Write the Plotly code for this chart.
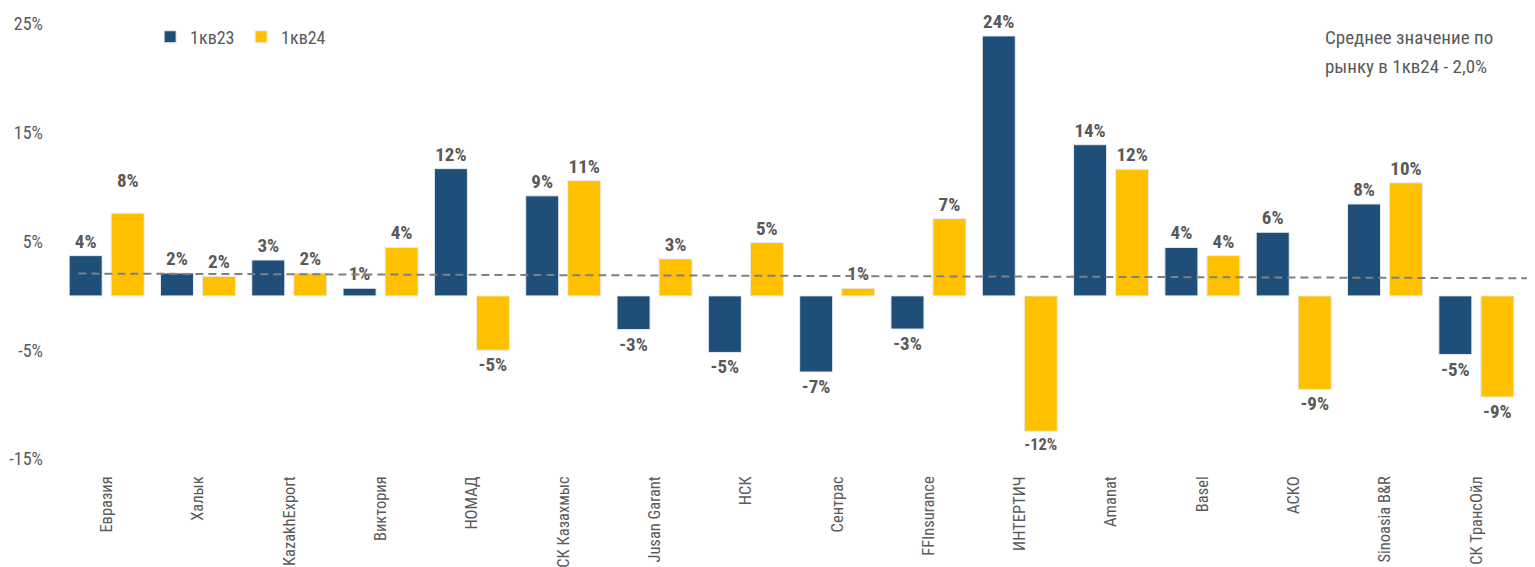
import plotly.graph_objects as go

categories = ["Евразия", "Халык", "KazakhExport", "Виктория", "НОМАД", "СК Казахмыс",
              "Jusan Garant", "НСК", "Сентрас", "FFInsurance", "ИНТЕРТИЧ", "Amanat",
              "Basel", "АСКО", "Sinoasia B&R", "СК ТрансОйл"]
q1_23 = [3.7, 2.1, 3.3, 0.7, 11.7, 9.2, -3.1, -5.2, -7.0, -3.05, 23.9, 13.9, 4.45, 5.85, 8.45, -5.4]
q1_24 = [7.6, 1.8, 2.1, 4.45, -5.0, 10.6, 3.4, 4.9, 0.7, 7.1, -12.45, 11.65, 3.7, -8.6, 10.4, -9.3]
series_names = ["1кв23", "1кв24"]
avg_line = [2.05, 1.62]  # market-average dashed line (left end, right end)
y_ticks = [-15, -5, 5, 15, 25]
note_lines = ["Среднее значение по", "рынку в 1кв24 - 2,0%"]

BLUE = "#1F4E79"
GOLD = "#FFC000"
GRAY = "#595959"
FONT = "Roboto Condensed, Liberation Sans Narrow, DejaVu Sans Condensed, Arial Narrow, sans-serif"
LBL_FONT = dict(family=FONT, size=19, color=GRAY, weight="bold")


def labels(vals):
    return [f"{v:.0f}%" for v in vals]


lbl23 = labels(q1_23)
lbl24 = labels(q1_24)
# the first 1кв24 label sits higher in the reference: drawn separately below
lbl24_main = [""] + lbl24[1:]

fig = go.Figure()
for name, vals, col, txt in [(series_names[0], q1_23, BLUE, lbl23),
                             (series_names[1], q1_24, GOLD, lbl24_main)]:
    fig.add_trace(go.Bar(
        x=categories, y=vals, name=name,
        marker=dict(color=col, line=dict(color="#E8ECF2", width=1)),
        text=txt, textposition="outside", cliponaxis=False,
        textfont=LBL_FONT, hoverinfo="skip",
    ))

fig.add_annotation(x=categories[0], y=q1_24[0], xref="x", yref="y", text=lbl24[0],
                   showarrow=False, xshift=21, yshift=33, font=LBL_FONT)

fig.add_shape(type="line", xref="paper", yref="y",
              x0=0.0119, x1=1.008, y0=avg_line[0], y1=avg_line[1],
              line=dict(color="#808080", width=2, dash="8px,5px"), layer="above")

fig.add_annotation(xref="paper", yref="paper", x=0.8637, y=0.970, xanchor="left", yanchor="middle",
                   text=note_lines[0], showarrow=False,
                   font=dict(family=FONT, size=19, color=GRAY))
fig.add_annotation(xref="paper", yref="paper", x=0.8637, y=0.903, xanchor="left", yanchor="middle",
                   text=note_lines[1], showarrow=False,
                   font=dict(family=FONT, size=19, color=GRAY))

# the page adds an 8px body margin, so the figure is 8px smaller and margins shifted
fig.update_layout(
    width=1527, height=559,
    margin=dict(l=53, r=13, t=16, b=108, autoexpand=False),
    paper_bgcolor="white", plot_bgcolor="white",
    barmode="group", bargap=0.08, bargroupgap=0.214,
    showlegend=True,
    legend=dict(orientation="h", x=0.061, y=0.970, xanchor="left", yanchor="middle",
                font=dict(family=FONT, size=18, color=GRAY),
                entrywidth=46, entrywidthmode="pixels", bgcolor="rgba(0,0,0,0)"),
    font=dict(family=FONT, color=GRAY),
)
fig.update_yaxes(range=[-15, 25], tickvals=y_ticks, ticktext=[f"{t}%" for t in y_ticks],
                 showgrid=False, zeroline=False, showline=False, automargin=False,
                 tickfont=dict(family=FONT, size=18, color=GRAY), ticklabelstandoff=17)
fig.update_xaxes(showgrid=False, zeroline=False, showline=False, tickangle=-90, automargin=False,
                 tickfont=dict(family=FONT, size=16.5, color=GRAY), ticklabelstandoff=13)

fig.write_html("out.html")
